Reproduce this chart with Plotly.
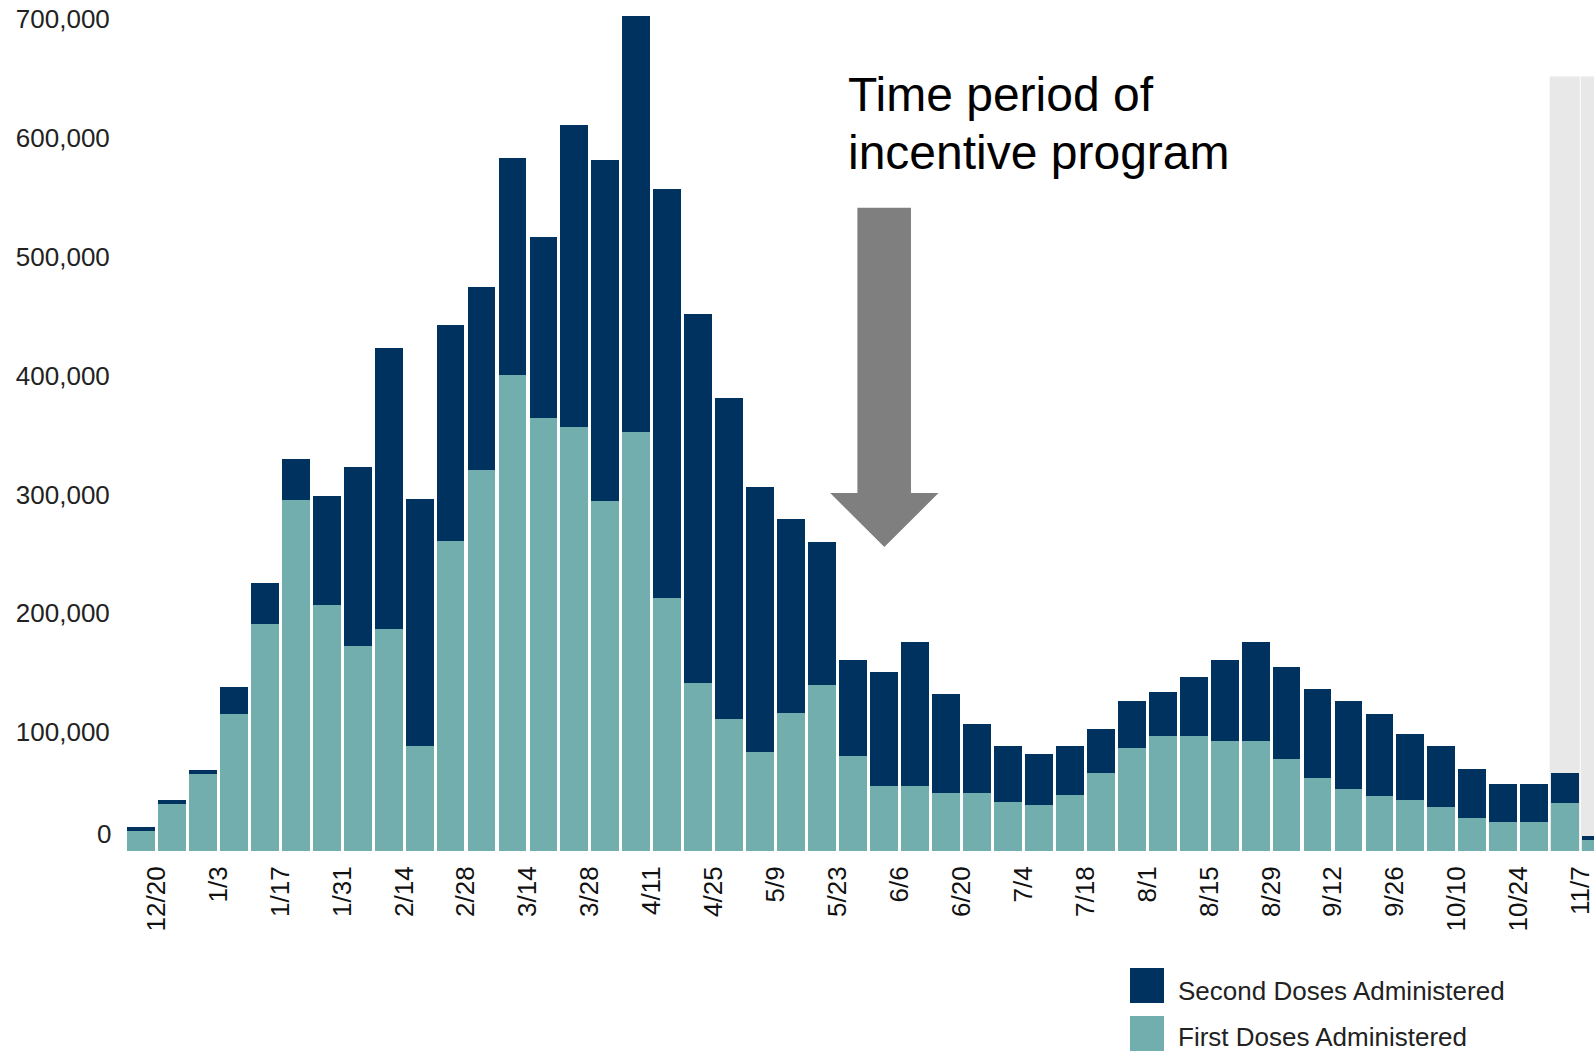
import plotly.graph_objects as go

# ---- data (weekly vaccine doses, week starting) ----
weeks = ["12/13", "12/20", "12/27", "1/3", "1/10", "1/17", "1/24", "1/31", "2/7", "2/14",
         "2/21", "2/28", "3/7", "3/14", "3/21", "3/28", "4/4", "4/11", "4/18", "4/25",
         "5/2", "5/9", "5/16", "5/23", "5/30", "6/6", "6/13", "6/20", "6/27", "7/4",
         "7/11", "7/18", "7/25", "8/1", "8/8", "8/15", "8/22", "8/29", "9/5", "9/12",
         "9/19", "9/26", "10/3", "10/10", "10/17", "10/24", "10/31", "11/7"]

first_doses = [16500, 39700, 64900, 115700, 190700, 295100, 207200, 172200, 186700, 88700,
               261000, 321000, 400300, 364700, 356700, 294200, 352900, 212800, 141400, 110900,
               83600, 116300, 139400, 79600, 55000, 55000, 49100, 49100, 41200, 38400,
               46900, 65900, 86700, 96500, 96500, 92600, 92600, 77500, 61200, 52500,
               46600, 42600, 36800, 27800, 24100, 24100, 40700, 9500]

second_doses = [3800, 3500, 2900, 22600, 35100, 35000, 91400, 151300, 237100, 207800,
                181500, 154100, 183400, 152300, 254300, 287400, 350000, 344100, 311000, 270600,
                222400, 162800, 120400, 80800, 95900, 120600, 82800, 57800, 47200, 43200,
                41500, 37100, 39300, 37600, 50200, 68400, 83000, 77100, 74900, 73500,
                68400, 55900, 51600, 41500, 32600, 32600, 25000, 3400]

y_ticks = [100000, 200000, 300000, 400000, 500000, 600000, 700000]
y_tick_labels = ["100,000", "200,000", "300,000", "400,000", "500,000", "600,000", "700,000"]

highlight_weeks = ["10/31", "11/7"]   # shaded (incomplete data) weeks
highlight_top = 652000

series_names = ["First Doses Administered", "Second Doses Administered"]
colors = {"first": "#72AEAD", "second": "#00325F"}

FONT = "Liberation Sans, Arial, sans-serif"

x = list(range(len(weeks)))

fig = go.Figure()
fig.add_trace(go.Bar(x=x, y=first_doses, name=series_names[0],
                     marker=dict(color=colors["first"], line=dict(width=0)),
                     showlegend=False))
fig.add_trace(go.Bar(x=x, y=second_doses, name=series_names[1],
                     marker=dict(color=colors["second"], line=dict(width=0)),
                     showlegend=False))

# tick every two weeks, placed at the week's start boundary
tick_idx = [i for i in range(1, len(weeks), 2)]
tickvals = [i - 0.5 for i in tick_idx]
ticktext = [weeks[i] for i in tick_idx]

shapes = []
# shaded weeks
for w in highlight_weeks:
    i = weeks.index(w)
    shapes.append(dict(type="rect", xref="x", yref="y", x0=i - 0.5, x1=i + 0.47,
                       y0=0, y1=highlight_top, fillcolor="#E8E8E8",
                       line=dict(width=0), layer="below"))

# block arrow (annotation)
ax0, ax1, hx0, hx1, tipx = 23.14, 24.87, 22.26, 25.76, 24.01
ytop, yhead, ytip = 541500, 301300, 255900
shapes.append(dict(type="path", xref="x", yref="y",
                   path=f"M {ax0},{ytop} L {ax1},{ytop} L {ax1},{yhead} L {hx1},{yhead} "
                        f"L {tipx},{ytip} L {hx0},{yhead} L {ax0},{yhead} Z",
                   fillcolor="#7F7F7F", line=dict(width=0), layer="above"))

# custom legend squares
W, L_MARGIN, PH = 1594, 127, 851
def px_x(p):
    return (p - L_MARGIN) / (W - L_MARGIN)
def px_y(p):
    return (PH - p) / PH

shapes.append(dict(type="rect", xref="paper", yref="paper",
                   x0=px_x(1130), x1=px_x(1164), y0=px_y(1003), y1=px_y(968),
                   fillcolor=colors["second"], line=dict(width=0)))
shapes.append(dict(type="rect", xref="paper", yref="paper",
                   x0=px_x(1130), x1=px_x(1164), y0=px_y(1051), y1=px_y(1016),
                   fillcolor=colors["first"], line=dict(width=0)))

annotations = [
    dict(text="Time period of", xref="paper", yref="paper", x=px_x(846), y=px_y(95),
         xanchor="left", yanchor="middle", showarrow=False,
         font=dict(family=FONT, size=48, color="#000000")),
    dict(text="incentive program", xref="paper", yref="paper", x=px_x(846), y=px_y(152),
         xanchor="left", yanchor="middle", showarrow=False,
         font=dict(family=FONT, size=48, color="#000000")),
    dict(text=series_names[1], xref="paper", yref="paper", x=px_x(1176), y=px_y(991),
         xanchor="left", yanchor="middle", showarrow=False,
         font=dict(family=FONT, size=26, color="#222222")),
    dict(text=series_names[0], xref="paper", yref="paper", x=px_x(1176), y=px_y(1037),
         xanchor="left", yanchor="middle", showarrow=False,
         font=dict(family=FONT, size=26, color="#222222")),
    # zero label (drawn slightly above the baseline as in the source)
    dict(text="0", xref="paper", yref="y", x=0, y=0, xanchor="right", yanchor="middle",
         xshift=-14, yshift=17, showarrow=False,
         font=dict(family=FONT, size=26, color="#222222")),
]

fig.update_layout(
    barmode="stack",
    bargap=0.1,
    width=1594, height=1052,
    margin=dict(l=127, r=0, t=0, b=201, pad=0, autoexpand=False),
    paper_bgcolor="white", plot_bgcolor="white",
    showlegend=False,
    shapes=shapes,
    annotations=annotations,
    xaxis=dict(range=[-0.45, 46.93], tickmode="array", tickvals=tickvals, ticktext=ticktext,
               tickangle=-90, showgrid=False, zeroline=False, showline=False,
               ticks="outside", ticklen=4, tickcolor="rgba(0,0,0,0)",
               ticklabeloverflow="allow", automargin=False,
               tickfont=dict(family=FONT, size=26, color="#111111")),
    yaxis=dict(range=[0, 716300], tickmode="array", tickvals=y_ticks, ticktext=y_tick_labels,
               showgrid=False, zeroline=False, showline=False, automargin=False,
               ticks="outside", ticklen=11, tickcolor="rgba(0,0,0,0)",
               tickfont=dict(family=FONT, size=26, color="#222222")),
)

fig.write_html("out.html")
